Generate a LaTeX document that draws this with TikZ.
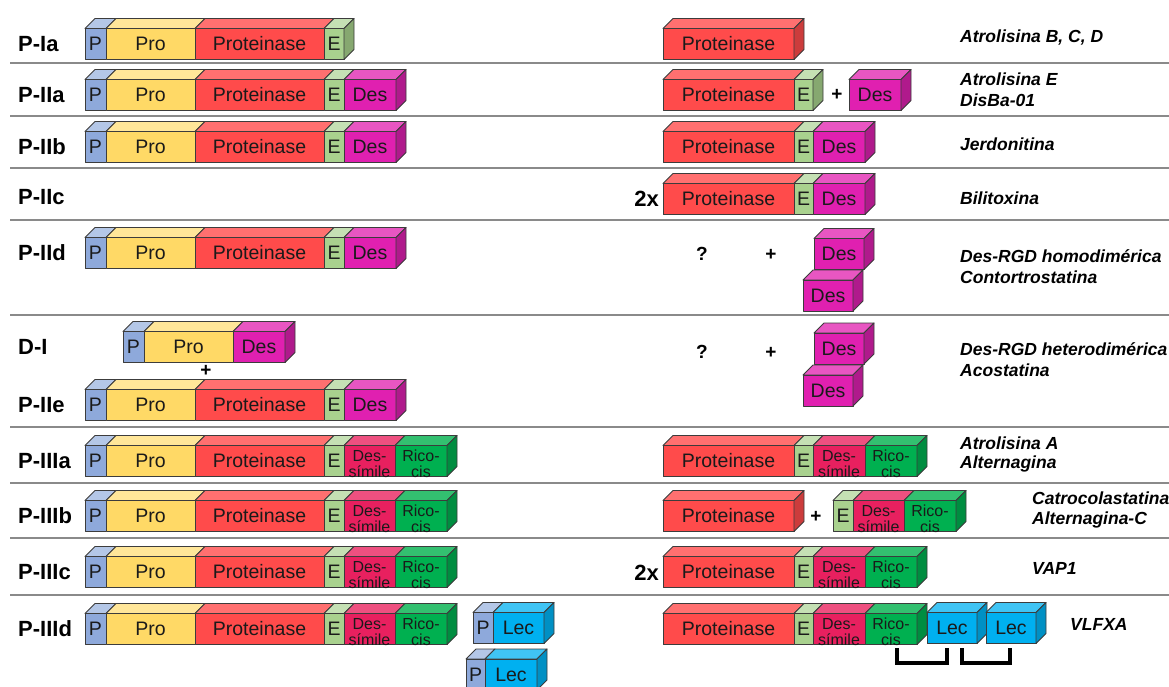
\documentclass[tikz,border=0pt]{standalone}
\usepackage{fontspec}
\setmainfont{Liberation Sans}
\definecolor{bdr}{HTML}{3C3C3C}
\definecolor{txt}{HTML}{1A1A1A}
\definecolor{pF}{HTML}{8EA9DB}\definecolor{pT}{HTML}{B4C7E7}\definecolor{pS}{HTML}{6F87B5}
\definecolor{prF}{HTML}{FFD966}\definecolor{prT}{HTML}{FFE699}\definecolor{prS}{HTML}{D9B545}
\definecolor{ptF}{HTML}{FF4B4B}\definecolor{ptT}{HTML}{FF7070}\definecolor{ptS}{HTML}{CC3C3C}
\definecolor{eF}{HTML}{A9D18E}\definecolor{eT}{HTML}{C5E0B4}\definecolor{eS}{HTML}{86A870}
\definecolor{dF}{HTML}{E020B0}\definecolor{dT}{HTML}{E856C2}\definecolor{dS}{HTML}{B01A8C}
\definecolor{dsF}{HTML}{E8205F}\definecolor{dsT}{HTML}{EE5080}\definecolor{dsS}{HTML}{B81A4C}
\definecolor{rcF}{HTML}{00B050}\definecolor{rcT}{HTML}{33C070}\definecolor{rcS}{HTML}{008D40}
\definecolor{lcF}{HTML}{00B0F0}\definecolor{lcT}{HTML}{40C4F4}\definecolor{lcS}{HTML}{0090C4}
\definecolor{sepc}{HTML}{8A8A8A}
\tikzset{
 face/.style={draw=bdr,line width=0.9pt,inner sep=0pt,minimum height=31pt,line join=round},
 ftxt/.style={inner sep=0pt,text=txt,font=\fontsize{19.5}{20}\selectfont},
 ftwo/.style={inner sep=0pt,text=txt,align=center,font=\fontsize{16}{16}\selectfont,yshift=-3pt},
 topf/.style={draw=bdr,line width=0.9pt,line join=round},
 rowlab/.style={anchor=west,inner sep=0pt,font=\fontsize{22}{22}\selectfont\bfseries},
 rlab/.style={anchor=west,inner sep=0pt,font=\fontsize{17.5}{21}\selectfont\bfseries\itshape,align=left},
 sym/.style={inner sep=0pt,font=\fontsize{19}{19}\selectfont\bfseries},
 sepline/.style={draw=sepc,line width=1.8pt},
 bond/.style={draw=black,line width=3.2pt},
}
\newcommand{\mybox}[7][ftxt]{%
 \filldraw[topf,fill=#6T] (#3,#5-15.5) -- (#3+10,#5-25.5) -- (#4+10,#5-25.5) -- (#4,#5-15.5) -- cycle;
 \node[face,fill=#6F,minimum width={(#4-#3)*1pt}] (#2) at ({(#3+#4)/2},#5) {};
 \node[#1] (#2t) at (#2.center) {#7};
}
\newcommand{\myside}[3]{%
 \filldraw[topf,fill=#3S] (#1,#2-15.5) -- (#1+10,#2-25.5) -- (#1+10,#2+5.5) -- (#1,#2+15.5) -- cycle;
}
\newcommand{\barbase}[2]{%
 \mybox{#1P}{85}{106}{#2}{p}{P}
 \mybox{#1Pro}{106}{195}{#2}{pr}{Pro}
 \mybox{#1Pt}{195}{324}{#2}{pt}{Proteinase}
 \mybox{#1E}{324}{344}{#2}{e}{E}}
\newcommand{\barII}[2]{\barbase{#1}{#2}\mybox{#1D}{344}{396}{#2}{d}{Des}\myside{396}{#2}{d}}
\newcommand{\barIII}[2]{\barbase{#1}{#2}\mybox[ftwo]{#1DS}{344}{395}{#2}{ds}{Des-\\símile}\mybox[ftwo]{#1RC}{395}{447}{#2}{rc}{Rico-\\cis}\myside{447}{#2}{rc}}
\newcommand{\rbase}[2]{\mybox{#1rPt}{663}{794}{#2}{pt}{Proteinase}\mybox{#1rE}{794}{813}{#2}{e}{E}}
\newcommand{\rIII}[2]{\rbase{#1}{#2}\mybox[ftwo]{#1rDS}{813}{865}{#2}{ds}{Des-\\símile}\mybox[ftwo]{#1rRC}{865}{917}{#2}{rc}{Rico-\\cis}}
\begin{document}
\begin{tikzpicture}[x=1pt,y=-1pt]
\useasboundingbox (0,0) rectangle (1169,686);
\clip (0,0) rectangle (1169,686);
% separators
\foreach \yy in {63,116,168,220,315,427,483,538,595}
  \draw[sepline] (10,\yy) -- (1169,\yy);
% row labels
\node[rowlab] (lIa) at (18,44) {P-Ia};
\node[rowlab] (lIIa) at (18,95) {P-IIa};
\node[rowlab] (lIIb) at (18,147) {P-IIb};
\node[rowlab] (lIIc) at (18,197) {P-IIc};
\node[rowlab] (lIId) at (18,253) {P-IId};
\node[rowlab] (lDI) at (18,347) {D-I};
\node[rowlab] (lIIe) at (18,405) {P-IIe};
\node[rowlab] (lIIIa) at (18,461) {P-IIIa};
\node[rowlab] (lIIIb) at (18,516) {P-IIIb};
\node[rowlab] (lIIIc) at (18,572) {P-IIIc};
\node[rowlab] (lIIId) at (18,629) {P-IIId};
% left bars
\barbase{a}{44}\myside{344}{44}{e}
\barII{b}{95}
\barII{c}{147}
\barII{d}{253}
\mybox{fP}{123}{144}{347}{p}{P}
\mybox{fPro}{144}{233}{347}{pr}{Pro}
\mybox{fD}{233}{285}{347}{d}{Des}\myside{285}{347}{d}
\node[sym] (fplus) at (206,371) {+};
\barII{g}{405}
\barIII{h}{461}
\barIII{i}{516}
\barIII{j}{572}
\barIII{k}{629}
\mybox{kLP}{473}{493}{628}{p}{P}
\mybox{kLL}{493}{544}{628}{lc}{Lec}\myside{544}{628}{lc}
\mybox{kMP}{466}{485}{674.5}{p}{P}
\mybox{kML}{485}{537}{674.5}{lc}{Lec}\myside{537}{674.5}{lc}
% right column
\mybox{arPt}{663}{794}{44}{pt}{Proteinase}\myside{794}{44}{pt}
\rbase{b}{95}\myside{813}{95}{e}
\node[sym] (bplus) at (837,95) {+};
\mybox{brD}{849}{901}{95}{d}{Des}\myside{901}{95}{d}
\rbase{c}{147}\mybox{crD}{813}{865}{147}{d}{Des}\myside{865}{147}{d}
\node[rowlab,anchor=east] (e2x) at (659,199) {2x};
\rbase{e}{199}\mybox{erD}{813}{865}{199}{d}{Des}\myside{865}{199}{d}
\node[sym] (dq) at (702,254) {?};
\node[sym] (dplus) at (771,255) {+};
\mybox{drD1}{814}{864}{254}{d}{Des}\myside{864}{254}{d}
\mybox{drD2}{803}{853}{295.5}{d}{Des}\myside{853}{295.5}{d}
\node[sym] (gq) at (702,352) {?};
\node[sym] (gplus) at (771,353) {+};
\mybox{grD1}{814}{864}{348.5}{d}{Des}\myside{864}{348.5}{d}
\mybox{grD2}{803}{853}{390.5}{d}{Des}\myside{853}{390.5}{d}
\rIII{h}{461}\myside{917}{461}{rc}
\mybox{irPt}{663}{794}{516}{pt}{Proteinase}\myside{794}{516}{pt}
\node[sym] (iplus) at (816,517) {+};
\mybox{irE}{833}{853}{516}{e}{E}
\mybox[ftwo]{irDS}{853}{904}{516}{ds}{Des-\\símile}
\mybox[ftwo]{irRC}{904}{956}{516}{rc}{Rico-\\cis}\myside{956}{516}{rc}
\node[rowlab,anchor=east] (j2x) at (659,573) {2x};
\rIII{j}{572}\myside{917}{572}{rc}
\rIII{k}{629}\myside{917}{629}{rc}
\mybox{krL1}{927}{977}{628}{lc}{Lec}\myside{977}{628}{lc}
\mybox{krL2}{986}{1036}{628}{lc}{Lec}\myside{1036}{628}{lc}
% bonds
\coordinate (b1a) at (897,648); \coordinate (b1b) at (897,663);
\coordinate (b1c) at (947,663); \coordinate (b1d) at (947,648);
\coordinate (b2a) at (962,648); \coordinate (b2b) at (962,663);
\coordinate (b2c) at (1010,663); \coordinate (b2d) at (1010,648);
\draw[bond] (b1a) -- (b1b) -- (b1c) -- (b1d);
\draw[bond] (b2a) -- (b2b) -- (b2c) -- (b2d);
% right labels
\node[rlab] (n1) at (960,38) {Atrolisina B, C, D};
\node[rlab] (n2) at (960,79) {Atrolisina E};
\node[rlab] (n3) at (960,100) {DisBa-01};
\node[rlab] (n4) at (960,144) {Jerdonitina};
\node[rlab] (n5) at (960,198) {Bilitoxina};
\node[rlab] (n6) at (960,256) {Des-RGD homodimérica};
\node[rlab] (n7) at (960,277) {Contortrostatina};
\node[rlab] (n8) at (960,349) {Des-RGD heterodimérica};
\node[rlab] (n9) at (960,370) {Acostatina};
\node[rlab] (n10) at (960,443) {Atrolisina A};
\node[rlab] (n11) at (960,464) {Alternagina};
\node[rlab] (n12) at (1032,498) {Catrocolastatina};
\node[rlab] (n13) at (1032,520) {Alternagina-C};
\node[rlab] (n14) at (1032,568) {VAP1};
\node[rlab] (n15) at (1070,624) {VLFXA};
\end{tikzpicture}
\end{document}
